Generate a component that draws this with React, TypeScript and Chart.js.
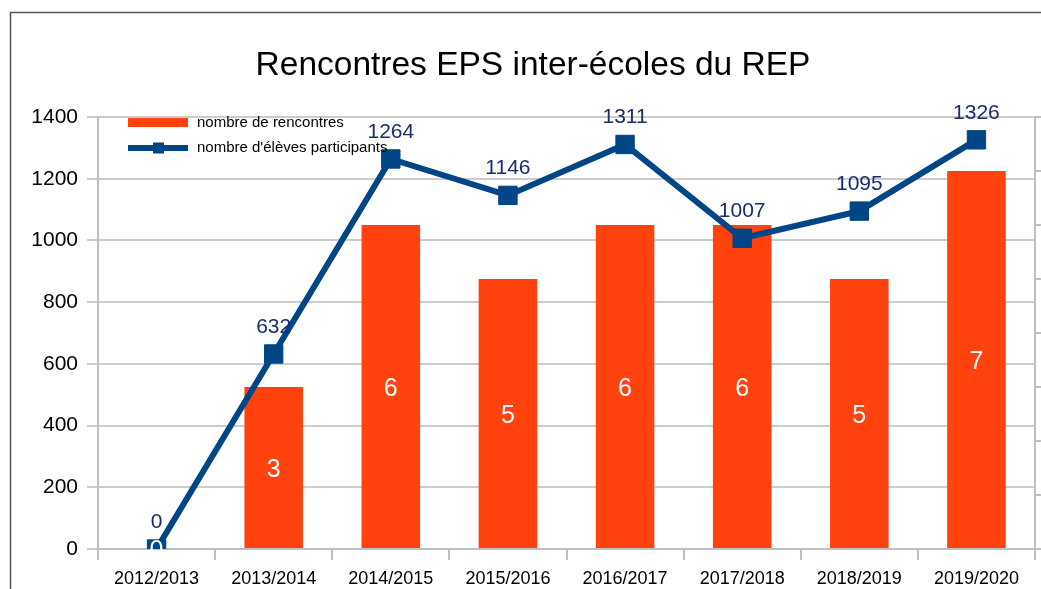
import React, { useEffect, useRef } from 'react';
import { Chart, registerables } from 'chart.js';

Chart.register(...registerables);

const TITLE = 'Rencontres EPS inter-écoles du REP';
const categories = ['2012/2013', '2013/2014', '2014/2015', '2015/2016', '2016/2017', '2017/2018', '2018/2019', '2019/2020'];
const rencontres = [0, 3, 6, 5, 6, 6, 5, 7];
const eleves = [0, 632, 1264, 1146, 1311, 1007, 1095, 1326];
const barLabel = 'nombre de rencontres';
const lineLabel = "nombre d'élèves participants";

const ORANGE = '#ff420e';
const BLUE = '#004586';
const NAVY = '#1c2b6b';
const FONT = '"Liberation Sans", Arial, sans-serif';

const decor = {
  id: 'decor',
  beforeDraw(chart: any) {
    const ctx = chart.ctx;
    ctx.save();
    ctx.fillStyle = '#ffffff';
    ctx.fillRect(0, 0, chart.width, chart.height);
    ctx.strokeStyle = '#555555';
    ctx.lineWidth = 1.5;
    ctx.beginPath();
    ctx.moveTo(10.5, chart.height);
    ctx.lineTo(10.5, 12.5);
    ctx.lineTo(chart.width, 12.5);
    ctx.stroke();
    ctx.fillStyle = '#000000';
    ctx.font = `33.5px ${FONT}`;
    ctx.textAlign = 'center';
    ctx.textBaseline = 'alphabetic';
    ctx.fillText(TITLE, 533, 75);
    ctx.restore();
  },
  afterDatasetsDraw(chart: any) {
    const ctx = chart.ctx;
    ctx.save();
    // bar labels
    const barMeta = chart.getDatasetMeta(1);
    ctx.fillStyle = '#ffffff';
    ctx.font = `25px ${FONT}`;
    ctx.textAlign = 'center';
    ctx.textBaseline = 'alphabetic';
    barMeta.data.forEach((el: any, i: number) => {
      const cy = (el.y + el.base) / 2;
      ctx.fillText(String(rencontres[i]), el.x, cy + 9);
    });
    // line labels
    const lineMeta = chart.getDatasetMeta(0);
    ctx.fillStyle = NAVY;
    ctx.font = `21px ${FONT}`;
    lineMeta.data.forEach((el: any, i: number) => {
      ctx.fillText(String(eleves[i]), el.x, el.y - 21);
    });
    // legend
    ctx.fillStyle = ORANGE;
    ctx.fillRect(128, 118, 60, 9);
    ctx.strokeStyle = BLUE;
    ctx.lineWidth = 6;
    ctx.beginPath();
    ctx.moveTo(128, 148);
    ctx.lineTo(188, 148);
    ctx.stroke();
    ctx.fillStyle = BLUE;
    ctx.fillRect(153, 142.5, 11, 11);
    ctx.fillStyle = '#000000';
    ctx.font = `15px ${FONT}`;
    ctx.textAlign = 'left';
    ctx.textBaseline = 'middle';
    ctx.fillText(barLabel, 197, 123);
    ctx.fillText(lineLabel, 197, 148);
    ctx.restore();
  },
};

export default function App() {
  const ref = useRef<HTMLCanvasElement>(null);
  useEffect(() => {
    if (!ref.current) return;
    const chart = new Chart(ref.current, {
      type: 'bar',
      data: {
        labels: categories,
        datasets: [
          {
            type: 'line',
            label: lineLabel,
            data: eleves,
            yAxisID: 'y',
            borderColor: BLUE,
            backgroundColor: BLUE,
            borderWidth: 6,
            pointStyle: 'rect',
            pointRadius: 13,
            pointBorderWidth: 1,
            pointBorderColor: BLUE,
            pointBackgroundColor: BLUE,
            tension: 0,
            order: 0,
          } as any,
          {
            type: 'bar',
            label: barLabel,
            data: rencontres,
            yAxisID: 'y1',
            backgroundColor: ORANGE,
            barPercentage: 0.5,
            categoryPercentage: 1,
            order: 1,
          } as any,
        ],
      },
      options: {
        responsive: false,
        animation: false,
        layout: { autoPadding: false, padding: { top: 117, left: 0, right: 0, bottom: 0 } },
        plugins: {
          legend: { display: false },
          title: { display: false },
          tooltip: { enabled: false },
        },
        scales: {
          x: {
            offset: true,
            grid: { offset: true, drawOnChartArea: false, drawTicks: true, tickLength: 11, color: '#c0c0c0', lineWidth: 2 },
            border: { display: true, color: '#c0c0c0', width: 2 },
            ticks: { color: '#000', font: { family: FONT, size: 18 }, padding: 8, maxRotation: 0, autoSkip: false },
            afterFit(scale: any) { scale.height = 40; },
          },
          y: {
            position: 'left',
            min: 0,
            max: 1400,
            ticks: {
              stepSize: 200,
              color: '#000',
              font: { family: FONT, size: 21 },
              padding: 9,
              callback: (v: any) => String(v),
            },
            grid: { color: '#cccccc', lineWidth: 2, tickLength: 11 },
            border: { display: true, color: '#c0c0c0', width: 2 },
            afterFit(scale: any) { scale.width = 98; },
          },
          y1: {
            position: 'right',
            min: 0,
            max: 8,
            ticks: { stepSize: 1, display: false },
            grid: { drawOnChartArea: false, tickLength: 6, color: '#c0c0c0', lineWidth: 2 },
            border: { display: true, color: '#c0c0c0', width: 2 },
            afterFit(scale: any) { scale.width = 6; },
          },
        },
      },
      plugins: [decor],
    } as any);
    return () => chart.destroy();
  }, []);
  return (
    <div style={{ position: 'fixed', left: 0, top: 0, width: 1041, height: 589 }}>
      <canvas ref={ref} width={1041} height={589} style={{ display: 'block', width: 1041, height: 589 }} />
    </div>
  );
}
